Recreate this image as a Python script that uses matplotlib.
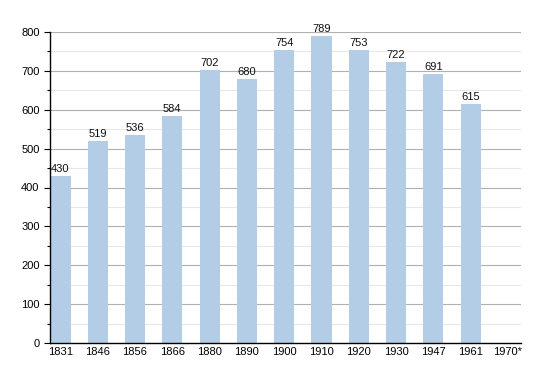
import matplotlib
matplotlib.use("Agg")
import matplotlib.pyplot as plt
from matplotlib.ticker import MultipleLocator

plt.rcParams['font.family'] = ['Liberation Sans', 'DejaVu Sans']

years = ["1831", "1846", "1856", "1866", "1880", "1890", "1900", "1910", "1920", "1930", "1947", "1961", "1970*"]
population = [430, 519, 536, 584, 702, 680, 754, 789, 753, 722, 691, 615, None]

fig = plt.figure(figsize=(5.5, 3.73), dpi=100)
ax = fig.add_axes([50/550, 1-343/373, (521-50)/550, (343-32)/373])

xs = [i for i, v in enumerate(population) if v is not None]
vals = [v for v in population if v is not None]
ax.bar(xs, vals, width=0.54, color="#b3cde6", zorder=2)
for x, v in zip(xs, vals):
    ax.text(x, v + 5, str(v), ha="center", va="bottom", fontsize=8, color="#111111", zorder=3)

ax.set_xlim(-0.28, 12.35)
ax.set_ylim(0, 800)
ax.set_xticks(range(len(years)))
ax.set_xticklabels(years, fontsize=8)
ax.yaxis.set_major_locator(MultipleLocator(100))
ax.yaxis.set_minor_locator(MultipleLocator(50))
ax.tick_params(axis="y", labelsize=8, length=4, width=0.8, which="major")
ax.tick_params(axis="y", which="minor", length=2, width=0.8)
ax.tick_params(axis="x", length=0, pad=3)
ax.grid(axis="y", which="major", color="#b0b0b0", linewidth=0.8, zorder=0)
ax.grid(axis="y", which="minor", color="#e8e8e8", linewidth=0.8, zorder=0)
ax.set_axisbelow(True)
for s in ["top", "right"]:
    ax.spines[s].set_visible(False)
ax.spines["left"].set_linewidth(1.0)
ax.spines["bottom"].set_linewidth(1.0)

fig.savefig("out.png", dpi=100)
